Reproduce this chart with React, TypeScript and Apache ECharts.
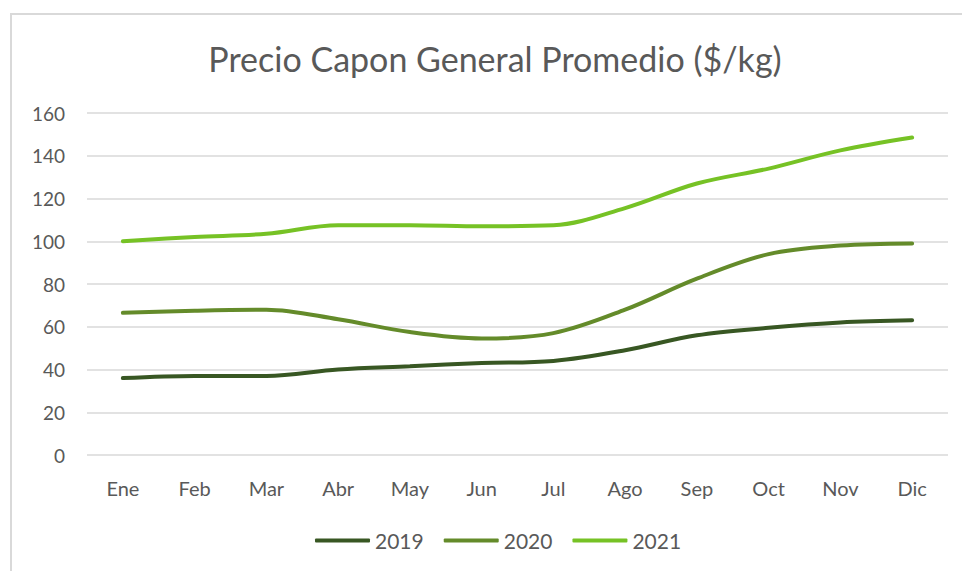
import React, { useEffect, useRef } from "react";
import * as echarts from "echarts";

const categories = ["Ene", "Feb", "Mar", "Abr", "May", "Jun", "Jul", "Ago", "Sep", "Oct", "Nov", "Dic"];
const s2019 = [36, 37, 37, 40, 41.5, 43, 44, 49, 56, 59.5, 62, 63];
const s2020 = [66.5, 67.5, 68, 63.5, 57.5, 54.5, 57, 68, 82.5, 94, 98, 99];
const s2021 = [100, 102, 103.5, 107.5, 107.5, 107, 107.5, 115.5, 127, 134, 142.5, 148.5];
const yTicks = { min: 0, max: 160, interval: 20 };
const title = "Precio Capon General Promedio ($/kg)";

const FONT = "Lato, 'Noto Sans', sans-serif";
const TXT = "#595959";

export default function App() {
  const ref = useRef<HTMLDivElement>(null);
  useEffect(() => {
    if (!ref.current) return;
    const chart = echarts.init(ref.current, undefined, { renderer: "svg" });
    const mk = (name: string, data: number[], color: string) => ({
      name,
      type: "line",
      data,
      smooth: 0.35,
      symbol: "none",
      lineStyle: { color, width: 4, cap: "round" },
      itemStyle: { color },
    });
    chart.setOption({
      animation: false,
      backgroundColor: "#ffffff",
      textStyle: { fontFamily: FONT },
      title: {
        text: title,
        left: 490,
        top: 36,
        textAlign: "center",
        textStyle: { fontFamily: FONT, fontSize: 34, fontWeight: "normal", color: TXT },
      },
      graphic: [
        {
          type: "rect",
          shape: { x: 11, y: 14, width: 980, height: 600 },
          style: { fill: "none", stroke: "#d9d9d9", lineWidth: 2 },
          silent: true,
          z: -1,
        },
      ],
      grid: { left: 87, right: 14, top: 113, bottom: 116 },
      legend: {
        bottom: 20,
        left: 315,
        padding: 0,
        icon: "roundRect",
        itemWidth: 55,
        itemHeight: 4,
        itemGap: 20,
        textStyle: { fontFamily: FONT, fontSize: 21, color: TXT },
        data: ["2019", "2020", "2021"],
      },
      xAxis: {
        type: "category",
        data: categories,
        boundaryGap: true,
        axisLine: { show: false },
        axisTick: { show: false },
        axisLabel: { color: TXT, fontSize: 20, fontFamily: FONT, margin: 23 },
      },
      yAxis: {
        type: "value",
        min: yTicks.min,
        max: yTicks.max,
        interval: yTicks.interval,
        axisLine: { show: false },
        axisTick: { show: false },
        axisLabel: { color: TXT, fontSize: 19, fontFamily: FONT, margin: 22 },
        splitLine: { lineStyle: { color: "#d9d9d9", width: 1.5 } },
      },
      series: [mk("2019", s2019, "#385723"), mk("2020", s2020, "#648b2a"), mk("2021", s2021, "#76c225")],
    });
    return () => chart.dispose();
  }, []);
  return <div ref={ref} style={{ position: "fixed", left: 0, top: 0, width: 962, height: 571 }} />;
}
